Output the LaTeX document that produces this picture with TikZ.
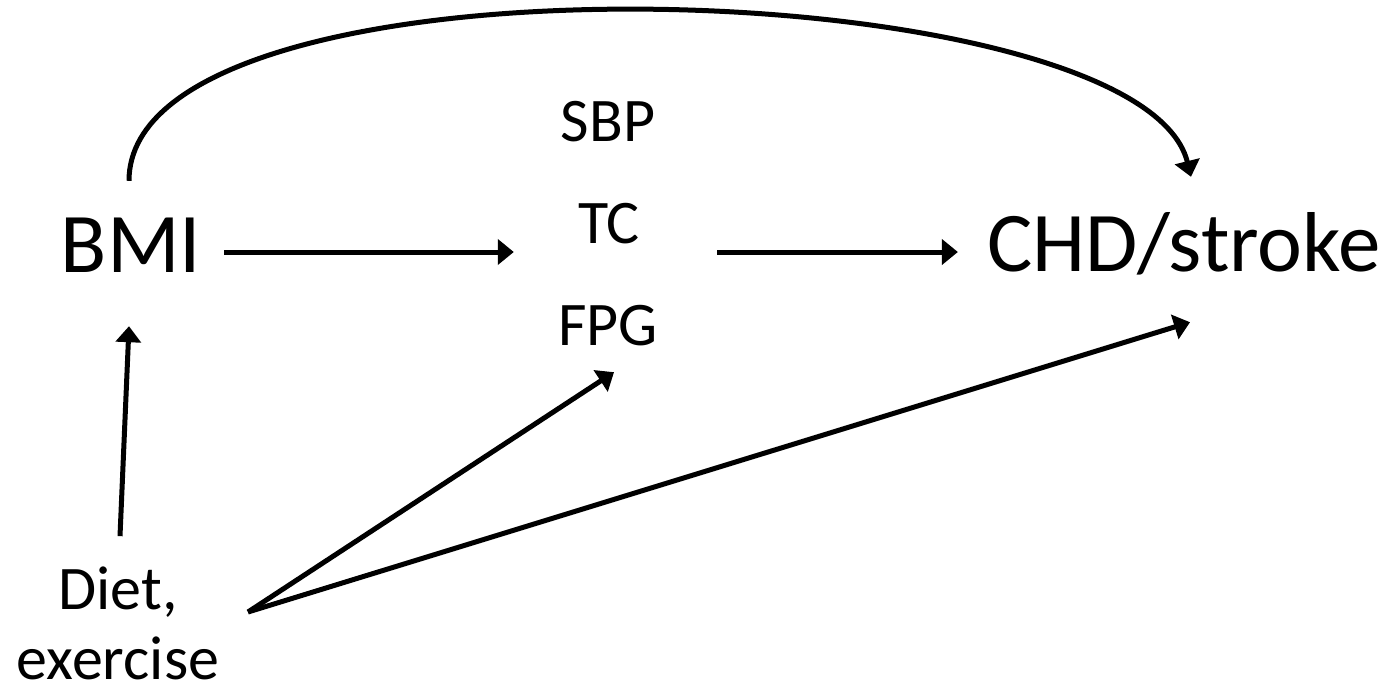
\documentclass[tikz,border=0pt]{standalone}
\usepackage{fontspec}
\setmainfont{Carlito}
\usetikzlibrary{arrows.meta}
\begin{document}
\begin{tikzpicture}[x=1pt,y=-1pt,
  arr/.style={line width=5pt,-{Triangle[length=16pt,width=25pt]}},
  big/.style={font=\fontsize{85}{100}\selectfont,inner sep=0pt,anchor=base,
    text height=55pt,text depth=0pt},
  small/.style={font=\fontsize{62}{72}\selectfont,inner sep=0pt,anchor=base,
    text height=40pt,text depth=0pt},
  multi/.style={font=\fontsize{62}{70}\selectfont,inner sep=0pt,anchor=base,
    align=center}]
\useasboundingbox (0,0) rectangle (1388,691);

% factors
\node[big] (bmi) at (131,272) {BMI};
\node[big] (chd) at (1184,271) {CHD/stroke};
\node[small] (sbp) at (608,141) {SBP};
\node[small] (tc)  at (609,243) {TC};
\node[small] (fpg) at (608,345) {FPG};
\node[multi] (diet) at (118,679) {Diet,\\exercise};

% shared levels and branching point
\coordinate (row) at (0,252);
\coordinate (hub) at (248,612);

% connectors
\draw[arr,shorten <=23pt,shorten >=64pt] (bmi.east |- row) -- (tc.west |- row);
\draw[arr,shorten <=77pt,shorten >=29pt] (tc.east |- row) -- (chd.west |- row);
\draw[arr] ([xshift=-2pt,yshift=36pt]bmi.north)
  .. controls (129,-60) and (1140,-30) .. ([xshift=7pt,yshift=39pt]chd.north);
\draw[arr] ([xshift=2pt,yshift=30pt]diet.north) -- ([xshift=-2pt,yshift=-54pt]bmi.south);
\draw[arr] (hub) -- ([xshift=6pt,yshift=-27pt]fpg.south);
\draw[arr] (hub) -- ([xshift=6pt,yshift=-51pt]chd.south);
\end{tikzpicture}
\end{document}
